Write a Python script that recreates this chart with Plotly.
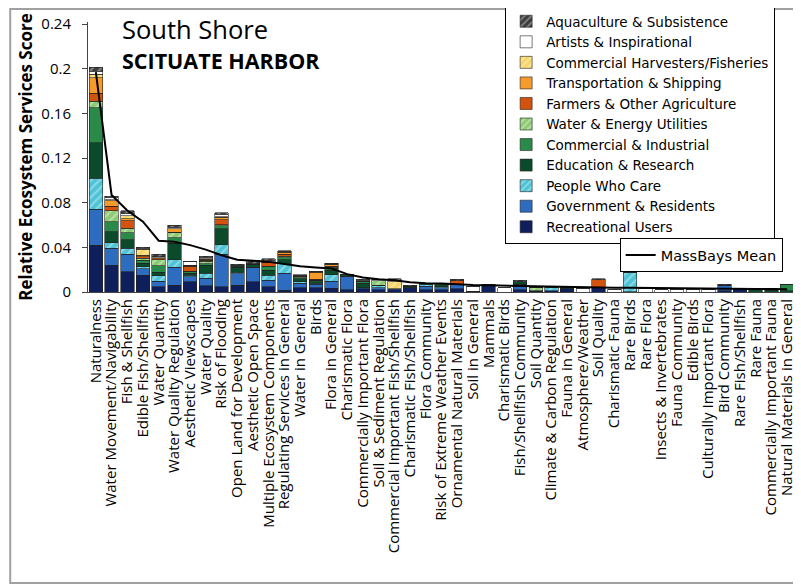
import plotly.graph_objects as go

# Categories (x axis)
categories = [
    'Naturalness', 'Water Movement/Navigability', 'Fish & Shellfish', 'Edible Fish/Shellfish',
    'Water Quantity', 'Water Quality Regulation', 'Aesthetic Viewscapes', 'Water Quality',
    'Risk of Flooding', 'Open Land for Development', 'Aesthetic Open Space',
    'Multiple Ecosystem Components', 'Regulating Services in General', 'Water in General',
    'Birds', 'Flora in General', 'Charismatic Flora', 'Commercially Important Flora',
    'Soil & Sediment Regulation', 'Commercial Important Fish/Shellfish',
    'Charismatic Fish/Shellfish', 'Flora Community', 'Risk of Extreme Weather Events',
    'Ornamental Natural Materials', 'Soil in General', 'Mammals', 'Charismatic Birds',
    'Fish/Shellfish Community', 'Soil Quantity', 'Climate & Carbon Regulation',
    'Fauna in General', 'Atmosphere/Weather', 'Soil Quality', 'Charismatic Fauna',
    'Rare Birds', 'Rare Flora', 'Insects & Invertebrates', 'Fauna Community',
    'Edible Birds', 'Culturally Important Flora', 'Bird Community', 'Rare Fish/Shellfish',
    'Rare Fauna', 'Commercially Important Fauna', 'Natural Materials in General']

# Stakeholder group scores (stacked, bottom to top)
recreational = [0.042, 0.024, 0.018, 0.015, 0.0047, 0.0062, 0.009, 0.0056, 0.0047, 0.006,
                0.0092, 0.0047, 0.0015, 0.004, 0.004, 0.0035, 0.002, 0.003, 0.002, 0.002,
                0.004, 0.002, 0.002, 0.003, 0.0007, 0.006, 0, 0.002, 0.0005, 0.001,
                0.003, 0, 0.004, 0, 0.0002, 0, 0, 0, 0, 0,
                0.001, 0.003, 0, 0, 0]
government = [0.032, 0.015, 0.016, 0.006, 0.005, 0.016, 0.0045, 0.0066, 0.029, 0.0105,
              0.0128, 0.006, 0.0152, 0.004, 0.003, 0.006, 0.012, 0.001, 0.002, 0.001,
              0, 0.003, 0.002, 0.004, 0, 0, 0, 0.005, 0.0005, 0,
              0, 0, 0, 0, 0, 0, 0, 0, 0, 0,
              0.005, 0, 0, 0, 0]
people_care = [0.028, 0.005, 0.005, 0.0016, 0.005, 0.0065, 0.0015, 0.0045, 0.0086, 0.001,
               0, 0.0045, 0.009, 0.001, 0.001, 0.006, 0, 0, 0.002, 0,
               0, 0.002, 0.0005, 0, 0, 0, 0, 0, 0, 0.003,
               0, 0, 0, 0, 0.017, 0, 0, 0, 0, 0,
               0, 0, 0, 0, 0]
education = [0.032, 0.0098, 0.008, 0.003, 0.003, 0.015, 0.002, 0.0073, 0.0143, 0.0045,
             0.003, 0.0045, 0.003, 0.003, 0.001, 0.004, 0.0015, 0.004, 0, 0,
             0.001, 0.0007, 0.002, 0, 0, 0, 0, 0.002, 0, 0.001,
             0.002, 0, 0, 0, 0, 0, 0, 0, 0, 0,
             0, 0, 0.003, 0.0015, 0.001]
commercial = [0.031, 0.009, 0.006, 0.003, 0.006, 0.005, 0.0015, 0.0015, 0.003, 0.001,
              0, 0.003, 0.002, 0.001, 0.0015, 0.002, 0, 0.001, 0, 0,
              0, 0, 0.001, 0, 0, 0, 0, 0, 0, 0,
              0, 0, 0, 0, 0, 0, 0, 0, 0, 0,
              0, 0, 0, 0.0015, 0.006]
utilities = [0.006, 0.010, 0.004, 0.0015, 0.005, 0.0045, 0, 0.002, 0.0005, 0.0005,
             0, 0.0005, 0.0015, 0.0005, 0, 0.0005, 0, 0, 0.004, 0,
             0, 0, 0, 0, 0, 0, 0, 0, 0.003, 0,
             0, 0, 0, 0, 0, 0, 0, 0, 0, 0,
             0, 0, 0, 0, 0]
farmers = [0.007, 0.004, 0.007, 0.0015, 0.001, 0.0005, 0.0045, 0.001, 0.0045, 0,
           0, 0.003, 0.0015, 0.0005, 0.001, 0.001, 0, 0.0005, 0, 0,
           0, 0, 0, 0.003, 0, 0, 0, 0, 0, 0,
           0, 0, 0.007, 0, 0, 0, 0, 0, 0, 0,
           0, 0, 0, 0, 0]
transport = [0.014, 0.005, 0.0015, 0.0015, 0.001, 0.003, 0.001, 0.001, 0.0025, 0,
             0, 0.0005, 0.002, 0.0007, 0.006, 0.0015, 0, 0, 0, 0,
             0, 0, 0, 0, 0, 0, 0, 0, 0, 0,
             0, 0, 0, 0, 0, 0, 0, 0, 0, 0,
             0, 0, 0, 0, 0]
harvesters = [0.003, 0.001, 0.003, 0.005, 0, 0, 0, 0.0005, 0.0005, 0,
              0, 0.0005, 0.0005, 0, 0.0005, 0.0003, 0, 0, 0, 0.006,
              0, 0, 0, 0, 0, 0, 0, 0, 0, 0,
              0, 0, 0, 0, 0, 0, 0, 0, 0, 0,
              0, 0, 0, 0, 0]
artists = [0.003, 0.002, 0.0015, 0.001, 0.001, 0.0015, 0.003, 0.001, 0.002, 0.0005,
           0.0005, 0.001, 0.0005, 0.0003, 0.0005, 0.0005, 0, 0.001, 0.001, 0.0015,
           0, 0, 0, 0, 0.004, 0, 0.004, 0, 0, 0,
           0, 0.003, 0, 0.0024, 0, 0.0033, 0.002, 0.002, 0.002, 0.0024,
           0, 0, 0, 0, 0]
aquaculture = [0.0035, 0.001, 0.003, 0.001, 0.002, 0.0015, 0.0005, 0.001, 0.0015, 0.001,
               0.003, 0.0015, 0.0005, 0.0003, 0.0002, 0.0005, 0.0005, 0.0008, 0.0003, 0.0015,
               0.001, 0, 0.0002, 0.0013, 0, 0.001, 0, 0.0017, 0, 0.0003,
               0.0003, 0, 0.0009, 0, 0, 0, 0, 0, 0, 0,
               0.0011, 0.0003, 0, 0, 0]

massbays_mean = [0.197, 0.087, 0.073, 0.063, 0.046, 0.045, 0.042, 0.038, 0.033, 0.029,
                 0.028, 0.027, 0.025, 0.023, 0.022, 0.021, 0.016, 0.013, 0.0115, 0.0105,
                 0.0088, 0.0078, 0.0076, 0.0068, 0.0062, 0.006, 0.0057, 0.0053, 0.0048, 0.0045,
                 0.0043, 0.0042, 0.004, 0.0038, 0.0037, 0.0035, 0.0033, 0.0032, 0.0031, 0.003,
                 0.0029, 0.0028, 0.0027, 0.0026, 0.0025]

y_ticks = [0, 0.04, 0.08, 0.12, 0.16, 0.2, 0.24]
y_tick_labels = ['0', '0.04', '0.08', '0.12', '0.16', '0.2', '0.24']

# (name, values, colour, hatched, hatch colour)
groups = [
    ('Recreational Users', recreational, '#0E1F5B', False, None),
    ('Government & Residents', government, '#2E6CC0', False, None),
    ('People Who Care', people_care, '#4FC3D6', True, '#CDEFF5'),
    ('Education & Research', education, '#0B4A2A', False, None),
    ('Commercial & Industrial', commercial, '#2A8A4A', False, None),
    ('Water & Energy Utilities', utilities, '#8CCB74', True, '#E2F3D8'),
    ('Farmers & Other Agriculture', farmers, '#D2530E', False, None),
    ('Transportation & Shipping', transport, '#F79A2C', False, None),
    ('Commercial Harvesters/Fisheries', harvesters, '#F7D56A', True, '#FFF4CC'),
    ('Artists & Inspirational', artists, '#FFFFFF', False, None),
    ('Aquaculture & Subsistence', aquaculture, '#3C3C3C', True, '#CFCFCF'),
]

font_family = 'Open Sans'
legend_font = 'DejaVu Sans'

fig = go.Figure()

for name, vals, color, hatched, hatch_col in groups:
    marker = dict(color=color, line=dict(color='#222222', width=0.6))
    if hatched:
        marker['pattern'] = dict(shape='/', fgcolor=hatch_col, fillmode='overlay',
                                 size=6, solidity=0.35)
    fig.add_trace(go.Bar(x=categories, y=vals, name=name, marker=marker,
                         legend='legend'))

fig.add_trace(go.Scatter(x=categories, y=massbays_mean, name='MassBays Mean',
                         mode='lines', line=dict(color='black', width=2),
                         legend='legend2'))

# page body adds an 8px offset, so the figure is a little smaller than the window
fig.update_layout(
    width=793, height=580,
    barmode='stack',
    bargap=0.14,
    plot_bgcolor='white',
    paper_bgcolor='white',
    font=dict(family=font_family, color='black', size=14),
    margin=dict(l=80, r=6, t=14, b=296, autoexpand=False),
    showlegend=True,
    legend=dict(x=0.59, y=1.063, xanchor='left', yanchor='top',
                traceorder='reversed', bgcolor='white', bordercolor='black',
                borderwidth=1, font=dict(size=13.5, family=legend_font),
                itemwidth=30),
    legend2=dict(x=0.752, y=0.2, xanchor='left', yanchor='top',
                 bgcolor='white', bordercolor='black', borderwidth=1,
                 font=dict(size=14.5, family=legend_font), itemwidth=30),
    xaxis=dict(tickmode='linear', tick0=0, dtick=1, tickangle=-90,
               tickfont=dict(size=15, family=font_family),
               showline=True, linecolor='#444444', linewidth=1, ticks='',
               automargin=False, categoryorder='array', categoryarray=categories),
    yaxis=dict(range=[0, 0.242], tickvals=y_ticks, ticktext=y_tick_labels,
               tickfont=dict(size=15, family=font_family),
               ticks='outside', ticklen=5, tickcolor='#444444',
               ticklabelstandoff=8,
               showline=True, linecolor='#444444', linewidth=1,
               showgrid=False, zeroline=False, automargin=False,
               title=dict(text='<b>Relative Ecosystem Services Score</b>',
                          font=dict(size=17, family=font_family), standoff=4)),
    annotations=[
        dict(text='South Shore', xref='paper', yref='paper', x=0.045, y=0.975,
             xanchor='left', yanchor='middle', showarrow=False,
             font=dict(size=25.5, family=font_family)),
        dict(text='<b>SCITUATE HARBOR</b>', xref='paper', yref='paper', x=0.045, y=0.859,
             xanchor='left', yanchor='middle', showarrow=False,
             font=dict(size=21.5, family=font_family)),
    ],
    shapes=[
        dict(type='rect', xref='paper', yref='paper', x0=-0.110, x1=1.003,
             y0=-1.078, y1=1.048, line=dict(color='#A0A0A0', width=2),
             fillcolor='rgba(0,0,0,0)', layer='below'),
    ],
)

fig.write_html('out.html')
